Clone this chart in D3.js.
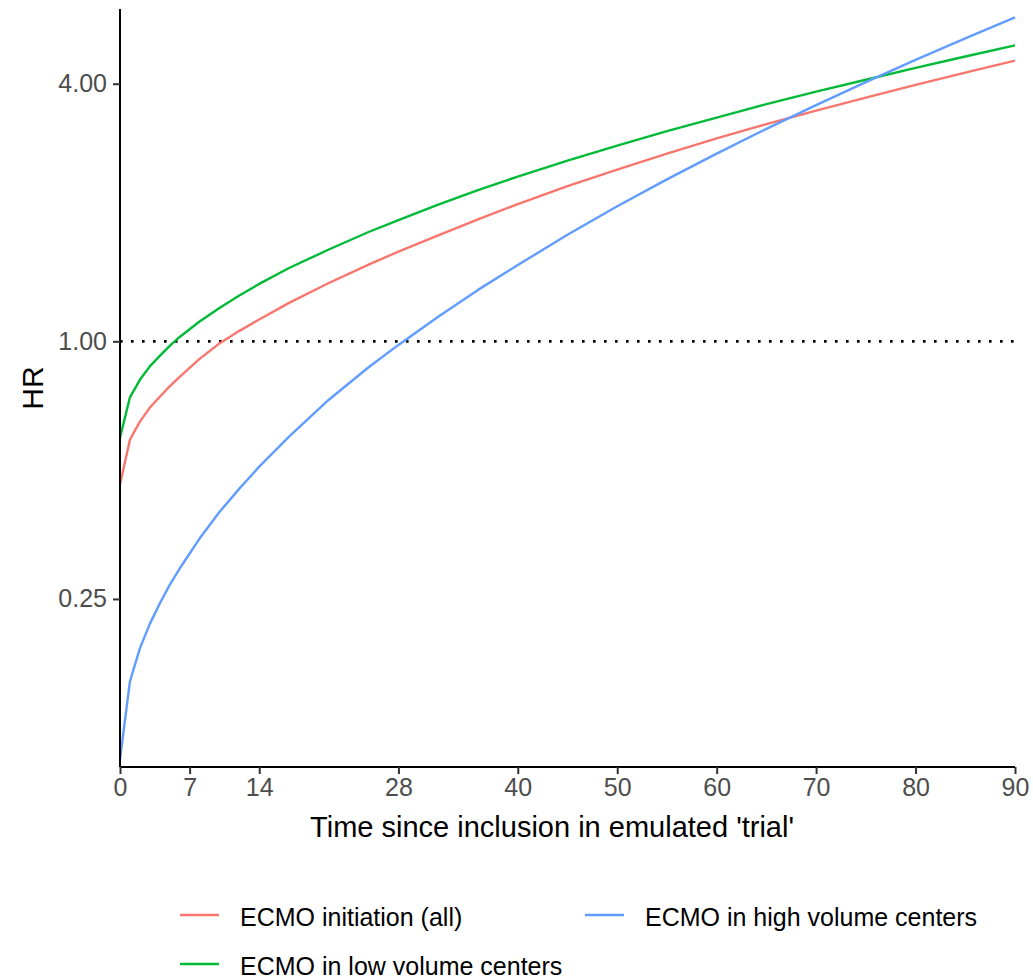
<!DOCTYPE html>
<html>
<head>
<meta charset="utf-8">
<script src="https://cdn.jsdelivr.net/npm/d3@7"></script>
<style>
  html, body { margin: 0; padding: 0; background: #ffffff; }
  svg { display: block; font-family: "Liberation Sans", Arial, sans-serif; }
</style>
</head>
<body>
<svg id="chart" width="1033" height="980"></svg>
<script>
// Days since inclusion at which the hazard ratio curves are evaluated
const days = [0, 1, 2, 3, 4, 5, 6, 8, 10, 12, 14, 17, 21, 25, 28, 32, 36, 40, 45, 50, 55, 60, 65, 70, 75, 80, 85, 90];

// Time-varying hazard ratios
const hrAll = [0.463, 0.589, 0.649, 0.700, 0.742, 0.785, 0.826, 0.910, 0.989, 1.058, 1.125, 1.230, 1.369, 1.511, 1.621, 1.769, 1.927, 2.093, 2.304, 2.520, 2.745, 2.980, 3.218, 3.460, 3.712, 3.974, 4.248, 4.529];
const hrLow = [0.595, 0.740, 0.813, 0.874, 0.925, 0.976, 1.024, 1.113, 1.197, 1.280, 1.362, 1.484, 1.639, 1.801, 1.921, 2.088, 2.257, 2.427, 2.645, 2.867, 3.099, 3.332, 3.583, 3.832, 4.087, 4.357, 4.632, 4.917];
const hrHigh = [0.1055, 0.1605, 0.1916, 0.2186, 0.2440, 0.2696, 0.2945, 0.346, 0.399, 0.4527, 0.5095, 0.5986, 0.7304, 0.8696, 0.981, 1.141, 1.319, 1.508, 1.774, 2.068, 2.391, 2.746, 3.138, 3.565, 4.034, 4.546, 5.105, 5.717];

const seriesNames = ["ECMO initiation (all)", "ECMO in low volume centers", "ECMO in high volume centers"];
const seriesColors = ["#F8766D", "#00BA38", "#619CFF"];

const xTicks = [0, 7, 14, 28, 40, 50, 60, 70, 80, 90];
const yTicks = [0.25, 1, 4];
const yTickLabels = ["0.25", "1.00", "4.00"];

const xTitle = "Time since inclusion in emulated 'trial'";
const yTitle = "HR";

const svg = d3.select("#chart");

const panel = { left: 120, right: 1015, top: 9, bottom: 767 };

const x = d3.scaleLinear().domain([0, 90]).range([panel.left, panel.right]);
const y = d3.scaleLog().base(2).domain([0.1012, 5.98]).range([panel.bottom, panel.top]);

const series = [hrAll, hrLow, hrHigh].map((vals, i) => ({
  name: seriesNames[i],
  color: seriesColors[i],
  points: days.map((d, j) => ({ t: d, hr: vals[j] }))
}));

// Reference line at HR = 1
svg.append("line")
  .attr("x1", x(0)).attr("x2", x(90))
  .attr("y1", y(1)).attr("y2", y(1))
  .attr("stroke", "#000")
  .attr("stroke-width", 2.6)
  .attr("stroke-dasharray", "2.6,8.4");

// Curves
const line = d3.line()
  .x(d => x(d.t))
  .y(d => y(d.hr));

svg.append("g")
  .selectAll("path")
  .data(series)
  .join("path")
  .attr("d", d => line(d.points))
  .attr("fill", "none")
  .attr("stroke", d => d.color)
  .attr("stroke-width", 2.4)
  .attr("stroke-linejoin", "round");

// X axis
const xAxis = svg.append("g")
  .attr("transform", `translate(0,${panel.bottom})`)
  .call(d3.axisBottom(x).tickValues(xTicks).tickSize(7).tickPadding(4).tickFormat(d3.format("d")));
xAxis.select(".domain").attr("stroke", "#000").attr("stroke-width", 2)
  .attr("d", `M${panel.left},0H${panel.right}`);
xAxis.selectAll(".tick line").attr("stroke", "#333").attr("stroke-width", 2);
xAxis.selectAll(".tick text")
  .attr("fill", "#4D4D4D")
  .attr("font-size", 25)
  .attr("font-family", "Liberation Sans, Arial, sans-serif");

// Y axis
const yAxis = svg.append("g")
  .attr("transform", `translate(${panel.left},0)`)
  .call(d3.axisLeft(y).tickValues(yTicks).tickSize(7).tickPadding(6)
    .tickFormat((d, i) => yTickLabels[i]));
yAxis.select(".domain").attr("stroke", "#000").attr("stroke-width", 2)
  .attr("d", `M0,${panel.bottom}V${panel.top}`);
yAxis.selectAll(".tick line").attr("stroke", "#333").attr("stroke-width", 2);
yAxis.selectAll(".tick text")
  .attr("fill", "#4D4D4D")
  .attr("font-size", 25)
  .attr("font-family", "Liberation Sans, Arial, sans-serif");

// Axis titles
svg.append("text")
  .attr("x", 552)
  .attr("y", 837)
  .attr("text-anchor", "middle")
  .attr("font-size", 29)
  .attr("fill", "#000")
  .text(xTitle);

svg.append("text")
  .attr("transform", `translate(43,${(panel.top + panel.bottom) / 2}) rotate(-90)`)
  .attr("text-anchor", "middle")
  .attr("font-size", 30)
  .attr("fill", "#000")
  .text(yTitle);

// Legend (two columns, filled row by row)
const legendSlots = [
  { key: 0, x: 180, y: 915 },
  { key: 2, x: 585, y: 915 },
  { key: 1, x: 180, y: 964 }
];
const legend = svg.append("g");
legendSlots.forEach(slot => {
  const s = series[slot.key];
  const g = legend.append("g").attr("transform", `translate(${slot.x},${slot.y})`);
  g.append("line")
    .attr("x1", 0).attr("x2", 39)
    .attr("y1", 0).attr("y2", 0)
    .attr("stroke", s.color)
    .attr("stroke-width", 2.4);
  g.append("text")
    .attr("x", 60)
    .attr("y", 11)
    .attr("font-size", 25)
    .attr("fill", "#000")
    .text(s.name);
});
</script>
</body>
</html>
